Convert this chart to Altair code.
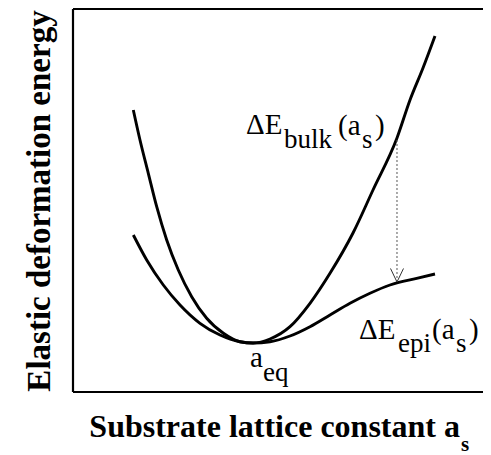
import altair as alt
import pandas as pd

# Substrate lattice constant (arbitrary units) and energies (arbitrary units)
lattice_bulk = [1.436, 1.595, 1.793, 1.993, 2.231, 2.507, 2.826, 3.183, 3.581, 3.976, 4.286,
                4.690, 5.167, 5.643, 6.119, 6.667, 7.143, 7.714, 8.024, 8.333, 8.619]
energy_bulk = [7.240, 6.470, 5.615, 4.757, 3.902, 3.132, 2.447, 1.892, 1.507, 1.291, 1.258,
               1.361, 1.677, 2.277, 3.047, 4.082, 5.186, 6.521, 7.497, 8.318, 9.140]

lattice_epi = [1.436, 1.755, 2.150, 2.548, 3.024, 3.500, 3.976, 4.286,
               4.690, 5.167, 5.643, 6.119, 6.595, 7.071, 7.548, 8.183, 8.619]
energy_epi = [4.031, 3.389, 2.747, 2.234, 1.764, 1.463, 1.291, 1.258,
              1.291, 1.438, 1.677, 1.977, 2.277, 2.534, 2.747, 2.919, 3.030]

X_MAX = 9.762
Y_MAX = 9.833

# arrow from bulk to epi curve
arrow_x = [7.714]
arrow_from = [6.47]
arrow_to = [2.824]
head_x = [7.560, 7.869]
head_y = [3.171, 3.171]

# annotation texts (pieces of ΔE_bulk(a_s), ΔE_epi(a_s), a_eq)
main_text = ["ΔE", "(a", ")", "ΔE", "(a", ")", "a"]
main_x = [4.119, 6.310, 7.190, 6.810, 8.548, 9.429, 4.214]
main_y = [6.624, 6.598, 6.598, 1.361, 1.361, 1.361, 0.642]
sub_text = ["bulk", "s", "epi", "s", "eq"]
sub_x = [5.024, 6.881, 7.738, 9.119, 4.524]
sub_y = [6.264, 6.264, 1.027, 1.027, 0.282]

xtitle_main = ["Substrate lattice constant a"]
xtitle_sub = ["s"]

FONT = "Liberation Serif"

xs = alt.Scale(domain=[0, X_MAX], nice=False, zero=False)
ys = alt.Scale(domain=[0, Y_MAX], nice=False, zero=False)
yaxis = alt.Axis(title="Elastic deformation energy", labels=False, ticks=False,
                 domain=False, grid=False, titleFont=FONT, titleFontSize=33,
                 titleFontWeight="bold", titleColor="black", titlePadding=17)


def X(f="x"):
    return alt.X(f"{f}:Q", scale=xs, axis=None)


def Y(f="y"):
    return alt.Y(f"{f}:Q", scale=ys, axis=yaxis)


bulk_df = pd.DataFrame({"x": lattice_bulk, "y": energy_bulk})
epi_df = pd.DataFrame({"x": lattice_epi, "y": energy_epi})

bulk = alt.Chart(bulk_df).mark_line(color="black", strokeWidth=2.9, interpolate="monotone").encode(x=X(), y=Y())
epi = alt.Chart(epi_df).mark_line(color="black", strokeWidth=2.9, interpolate="monotone").encode(x=X(), y=Y())

frame_df = pd.DataFrame({"x": [0, 0, 0], "y": [0, Y_MAX, 0],
                         "x2": [0, X_MAX, X_MAX], "y2": [Y_MAX, Y_MAX, 0]})
frame = alt.Chart(frame_df).mark_rule(color="black", strokeWidth=2.2).encode(
    x=X(), y=Y(), x2="x2:Q", y2="y2:Q")

dot_df = pd.DataFrame({"x": arrow_x, "y": arrow_from, "y2": arrow_to})
dotted = alt.Chart(dot_df).mark_rule(color="#555555", strokeWidth=1, strokeDash=[2, 2]).encode(
    x=X(), y=Y(), y2="y2:Q")

head_df = pd.DataFrame({"x": head_x, "y": head_y,
                        "x2": [arrow_x[0]] * 2, "y2": [arrow_to[0]] * 2})
head = alt.Chart(head_df).mark_rule(color="#333333", strokeWidth=1).encode(
    x=X(), y=Y(), x2="x2:Q", y2="y2:Q")

main_df = pd.DataFrame({"x": main_x, "y": main_y, "t": main_text})
mains = alt.Chart(main_df).mark_text(align="left", baseline="alphabetic", font=FONT,
                                     fontSize=29, color="black").encode(
    x=X(), y=Y(), text="t:N")
sub_df = pd.DataFrame({"x": sub_x, "y": sub_y, "t": sub_text})
subs = alt.Chart(sub_df).mark_text(align="left", baseline="alphabetic", font=FONT,
                                   fontSize=27, color="black").encode(
    x=X(), y=Y(), text="t:N")

xt_df = pd.DataFrame({"x": [9.214], "y": [-1.155], "t": xtitle_main})
xt = alt.Chart(xt_df).mark_text(align="right", baseline="alphabetic", font=FONT, fontSize=32,
                                fontWeight="bold", color="black").encode(x=X(), y=Y(), text="t:N")
xs_df = pd.DataFrame({"x": [9.238], "y": [-1.515], "t": xtitle_sub})
xsub = alt.Chart(xs_df).mark_text(align="left", baseline="alphabetic", font=FONT, fontSize=21,
                                  fontWeight="bold", color="black").encode(x=X(), y=Y(), text="t:N")

chart = alt.layer(frame, bulk, epi, dotted, head, mains, subs, xt, xsub).properties(
    width=410, height=383,
    autosize=alt.AutoSizeParams(type="none"),
    padding={"left": 65, "top": 1, "right": 0, "bottom": 66},
    background="white",
).configure_view(stroke=None)

chart.save("out.html", embed_options={"renderer": "svg", "actions": False})
